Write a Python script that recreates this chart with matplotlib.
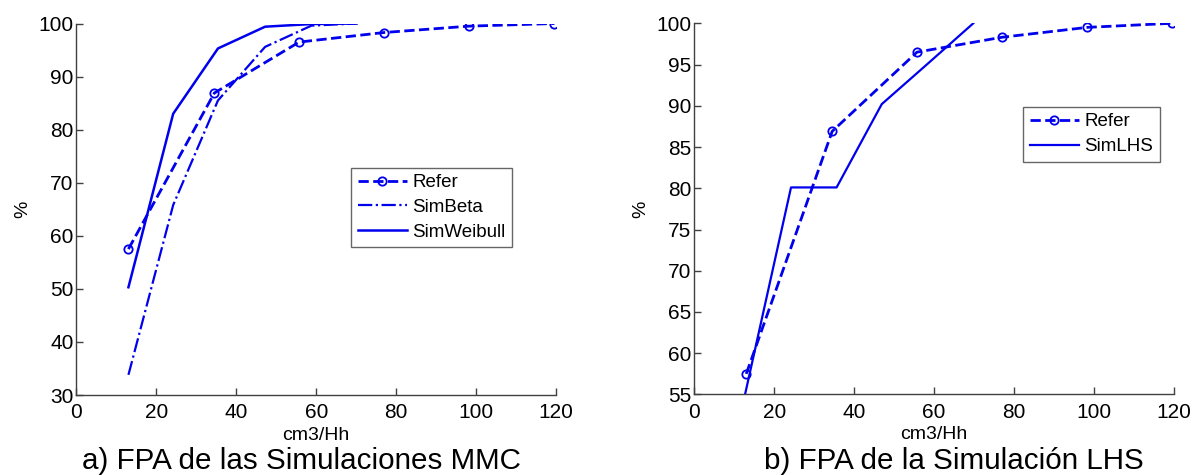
import matplotlib
matplotlib.use("Agg")
import matplotlib.pyplot as plt

plt.rcParams['font.family'] = ['Liberation Sans', 'DejaVu Sans']

# reference curve (same in both panels)
refer_x = [13.0, 34.5, 55.7, 76.9, 98.2, 119.6]
refer_y = [57.5, 86.9, 96.5, 98.3, 99.5, 100.0]

# simulated curves, panel a
sim_x = [13.0, 24.2, 35.4, 47.2, 58.8, 70.1]
beta_y = [33.8, 65.8, 85.5, 95.6, 99.6, 100.0]
weibull_y = [50.3, 83.0, 95.3, 99.4, 99.9, 100.0]

# panel b
lhs_x = [12.7, 24.2, 35.6, 46.9, 58.4, 69.8]
lhs_y = [55.0, 80.1, 80.1, 90.2, 95.1, 100.0]

xticks = [0, 20, 40, 60, 80, 100, 120]
yticks_a = [30, 40, 50, 60, 70, 80, 90, 100]
yticks_b = [55, 60, 65, 70, 75, 80, 85, 90, 95, 100]

col = '#0000ee'

fig = plt.figure(figsize=(11.97, 4.75), dpi=100)
ax1 = fig.add_axes([0.0639, 0.1684, 0.4006, 0.7821])
ax2 = fig.add_axes([0.5800, 0.1695, 0.4008, 0.7815])


def style(ax, yticks):
    ax.set_xlim(0, 120)
    ax.set_ylim(yticks[0], yticks[-1])
    ax.set_xticks(xticks)
    ax.set_yticks(yticks)
    ax.spines['top'].set_visible(False)
    ax.spines['right'].set_visible(False)
    for s in ['left', 'bottom']:
        ax.spines[s].set_color('#404040')
        ax.spines[s].set_linewidth(1.0)
    ax.tick_params(direction='in', length=5, width=1, labelsize=15, colors='#404040',
                   labelcolor='black')
    ax.tick_params(axis='y', pad=2)
    ax.tick_params(axis='x', pad=6)
    ax.set_xlabel('cm3/Hh', fontsize=14, labelpad=3)
    ax.set_ylabel('%', fontsize=14, labelpad=5)


leg_kw = dict(fontsize=13.5, frameon=True, fancybox=False, edgecolor='#404040',
              handlelength=2.6, handletextpad=0.3, borderpad=0.35, labelspacing=0.4,
              borderaxespad=0)

# panel a
ax1.plot(refer_x, refer_y, '--o', color=col, lw=2, ms=6, mfc='none', mew=1.3, label='Refer')
ax1.plot(sim_x, beta_y, '-.', color=col, lw=1.6, label='SimBeta')
ax1.plot(sim_x, weibull_y, '-', color=col, lw=1.8, label='SimWeibull')
style(ax1, yticks_a)
ax1.legend(loc='upper left', bbox_to_anchor=(0.573, 0.612), **leg_kw)

# panel b
ax2.plot(refer_x, refer_y, '--o', color=col, lw=2, ms=6, mfc='none', mew=1.3, label='Refer')
ax2.plot(lhs_x, lhs_y, '-', color=col, lw=1.6, label='SimLHS', clip_on=True)
style(ax2, yticks_b)
ax2.legend(loc='upper left', bbox_to_anchor=(0.686, 0.775), **leg_kw)

fig.text(0.252, 0.012, 'a) FPA de las Simulaciones MMC', ha='center', fontsize=21.3)
fig.text(0.797, 0.012, 'b) FPA de la Simulación LHS', ha='center', fontsize=21.3)

fig.savefig('out.png', dpi=100)
